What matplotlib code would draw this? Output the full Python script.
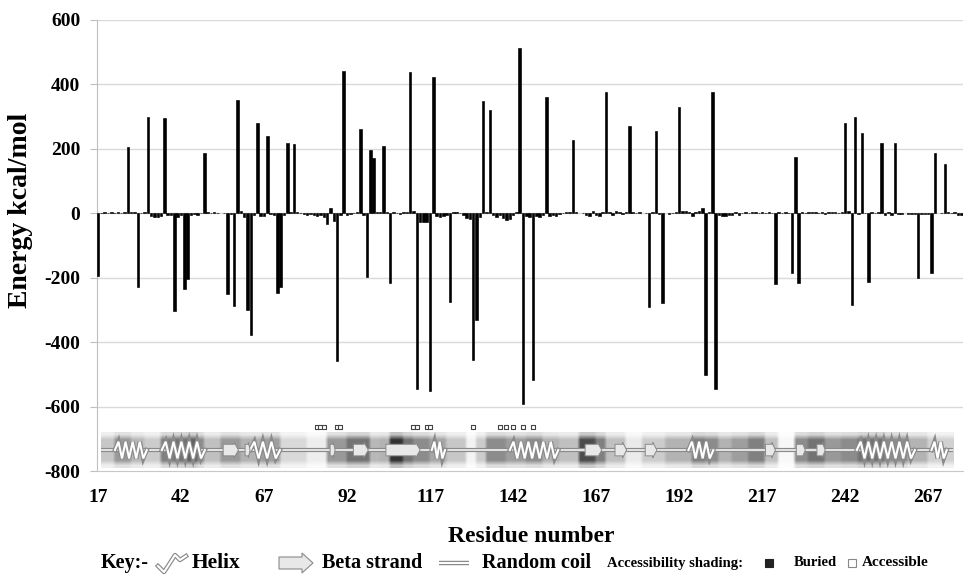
import numpy as np
import matplotlib
matplotlib.use("Agg")
import matplotlib.pyplot as plt
from matplotlib.patches import Polygon, Rectangle

plt.rcParams['font.family'] = ['Liberation Serif', 'DejaVu Serif']
plt.rcParams['font.weight'] = 'bold'

# ---------------- data ----------------
first_residue = 17
energy = [
    -195, 2, 3, 2, 3, 2, 3, 2, 4, 207,            # 17-26
    5, 3, -228, 2, 3, 300, -8, -10, -10, -8,       # 27-36
    295, -6, -5, -303, -10, -6, -235, -205, -4, -3,  # 37-46
    -5, 2, 186, 3, 2, 3, 2, None, 2, -252,         # 47-56
    -3, -287, 352, 8, -10, -300, -378, -4, 281, -8,  # 57-66
    -8, 241, -3, -5, -248, -230, -4, 217, 3, 214,  # 67-76
    3, 2, -3, -4, -3, -6, -8, -5, -10, -33,        # 77-86
    15, -23, -459, -6, 442, -5, -3, 2, 3, 261,     # 87-96
    -6, -197, 197, 171, 3, 4, 209, 3, -215, 3,     # 97-106
    2, -3, 3, 4, 440, 8, -547, -28, -28, -26,      # 107-116
    -551, 424, -8, -10, -8, -5, -274, 5, 3, 2,     # 117-126
    -4, -15, -18, -456, -331, -10, 350, 4, 321, -6,  # 127-136
    -10, -5, -15, -20, -18, -5, 3, 512, -592, -8,  # 137-146
    -10, -518, -8, -10, -6, 362, -8, -6, -8, -3,   # 147-156
    2, 3, 4, 228, 3, None, 2, -5, -8, 6,           # 157-166
    -6, -8, 4, 375, 3, -4, 8, 3, -3, 3,            # 167-176
    272, 4, 2, 3, None, 2, -290, 3, 256, -3,       # 177-186
    -280, None, -3, 2, 3, 331, 8, 6, 4, -8,        # 187-196
    3, 8, 15, -502, 3, 378, -544, -5, -8, -7,      # 197-206
    -6, -5, 3, -6, 2, 3, 2, 4, 3, 2,               # 207-216
    3, 2, 3, 2, -220, 3, 2, 3, 2, -184,            # 217-226
    176, -217, 3, 2, 4, 3, 5, 2, 3, -3,            # 227-236
    4, 5, 3, 2, 4, 280, 6, -285, 300, -3,          # 237-246
    248, 2, -214, 3, 2, 4, 219, -4, 3, -4,         # 247-256
    219, -3, -3, None, -3, -3, -2, -200, -3, -3,   # 257-266
    -3, -186, 188, None, 2, 152, 3, 2, 3, -4,      # 267-276
    -6,                                            # 277
]
residues = list(range(first_residue, first_residue + len(energy)))

x_ticks = [17, 42, 67, 92, 117, 142, 167, 192, 217, 242, 267]
y_ticks = [600, 400, 200, 0, -200, -400, -600, -800]

# secondary structure (residue ranges)
helix_start = [22.1, 36.2, 62.8, 117.5, 141.0, 194.8, 245.5, 268.0]
helix_end = [31.7, 49.2, 71.8, 121.5, 155.6, 202.3, 263.0, 272.6]
strand_start = [54.7, 61.3, 86.9, 93.9, 103.7, 163.7, 172.7, 181.8, 218.0, 227.3, 233.5]
strand_end = [59.3, 62.8, 88.4, 98.4, 114.0, 168.7, 176.2, 185.3, 221.0, 230.0, 236.0]
coil_start, coil_end = 18.0, 274.6

# accessibility shading (segment start residue, grey level 0=buried/black, 1=accessible/white)
shade_start = [18, 22, 27, 31, 36, 40, 44, 47, 49, 54, 60, 66, 72, 80, 86, 92, 99, 102, 105, 109,
               112, 117, 122, 128, 131, 134, 140, 146, 151, 156, 162, 167, 170, 176, 181, 188, 196,
               200, 204, 208, 213, 218, 222, 227, 231, 236, 241, 246, 254, 261, 267]
shade_level = [0.78, 0.6, 0.72, 0.8, 0.5, 0.45, 0.38, 0.55, 0.75, 0.6, 0.7, 0.62, 0.85, 0.93, 0.6,
               0.45, 0.72, 0.7, 0.2, 0.45, 0.55, 0.65, 0.78, 0.95, 0.8, 0.55, 0.62, 0.55, 0.7, 0.75,
               0.3, 0.5, 0.75, 0.92, 0.8, 0.7, 0.5, 0.55, 0.7, 0.62, 0.5, 0.75, 0.97, 0.55, 0.45,
               0.6, 0.55, 0.45, 0.55, 0.7, 0.82]

accessible_residues = [83, 84, 85, 89, 90, 112, 113, 116, 117, 130, 138, 140, 142, 145, 148]

# ---------------- figure ----------------
W, H = 964, 577
fig = plt.figure(figsize=(W / 100, H / 100), dpi=100)
fig.patch.set_facecolor('white')
ax = fig.add_axes([97 / W, 1 - 471 / H, (962.7 - 97) / W, (471 - 20) / H])

xs = [r for r, e in zip(residues, energy) if e is not None]
ys = [e for e in energy if e is not None]
ax.bar(xs, ys, width=0.75, color='black', edgecolor='black', linewidth=0.45, zorder=3)

ax.set_yticks(y_ticks)
ax.set_yticklabels([str(v) for v in y_ticks])
ax.set_xticks(x_ticks)
ax.set_xticklabels([str(v) for v in x_ticks])
for v in y_ticks[:-1]:
    ax.axhline(v, color='#d9d9d9', lw=1.0, zorder=0)
for s in ['top', 'right']:
    ax.spines[s].set_visible(False)
ax.spines['left'].set_color('#bfbfbf')
ax.spines['bottom'].set_color('#c8c8c8')
ax.tick_params(axis='y', length=5, color='#bfbfbf', pad=7, labelsize=14)
ax.tick_params(axis='x', length=0, pad=13, labelsize=14)
for lab in ax.get_xticklabels() + ax.get_yticklabels():
    lab.set_fontweight('bold')

# ---------------- secondary structure strip ----------------
strip_lo, strip_hi, strip_c = -791, -682, -735
grid_x = np.arange(coil_start, coil_end, 1.0)
idx = np.searchsorted(shade_start, grid_x, side='right') - 1
idx = np.clip(idx, 0, len(shade_level) - 1)
vals = np.array(shade_level)[idx]
img = np.vstack([0.3 * vals + 0.7, vals, vals, vals, vals, vals, 0.3 * vals + 0.7])
ax.imshow(img, cmap='gray', vmin=0, vmax=1, extent=[coil_start, coil_end, strip_lo, strip_hi],
          aspect='auto', interpolation='bilinear', zorder=1)
ax.set_xlim(16.7, 277.4)
ax.set_ylim(-800, 600)

# coil (double line)
ax.plot([coil_start, coil_end], [strip_c, strip_c], color='#8a8a8a', lw=3.0, zorder=2,
        solid_capstyle='butt')
ax.plot([coil_start, coil_end], [strip_c, strip_c], color='#f4f4f4', lw=1.2, zorder=2.1,
        solid_capstyle='butt')

# helices
amp = 26
for s, e in zip(helix_start, helix_end):
    m = max(1, int(round((e - s) / 2.6)))
    hx = np.linspace(s, e, 2 * m + 2)
    hy = [strip_c] + [strip_c + amp if k % 2 == 0 else strip_c - amp for k in range(2 * m)] + [strip_c]
    ax.plot(hx, hy, color='#8a8a8a', lw=3.2, zorder=3, solid_joinstyle='miter')
    ax.plot(hx, hy, color='white', lw=1.5, zorder=3.1, solid_joinstyle='miter')

# strands
for s, e in zip(strand_start, strand_end):
    hl = min(1.3, 0.35 * (e - s))
    hb, hh = 18, 24
    pts = [(s, strip_c - hb), (e - hl, strip_c - hb), (e - hl, strip_c - hh), (e, strip_c),
           (e - hl, strip_c + hh), (e - hl, strip_c + hb), (s, strip_c + hb)]
    ax.add_patch(Polygon(pts, closed=True, facecolor='#e8e8e8', edgecolor='#8a8a8a',
                         lw=0.7, zorder=3.2))

# accessible residue markers
ax.scatter(accessible_residues, [-663] * len(accessible_residues), marker='s', s=10,
           facecolor='white', edgecolor='#444444', linewidths=0.8, zorder=4)

# ---------------- labels and key ----------------
kax = fig.add_axes([0, 0, 1, 1])
kax.set_xlim(0, W)
kax.set_ylim(H, 0)
kax.axis('off')
kax.patch.set_alpha(0)

kax.text(21, 210, 'Energy kcal/mol', rotation=90, ha='center', va='center',
         fontsize=20, fontweight='bold')
kax.text(531, 537, 'Residue number', ha='center', va='center', fontsize=17, fontweight='bold')
ky = 563
kax.text(101, ky, 'Key:-', ha='left', va='center', fontsize=14.5, fontweight='bold')
hxk = [158, 164, 168, 175, 180, 186]
hyk = [566, 572, 566, 555, 560, 556]
kax.plot(hxk, hyk, color='#8a8a8a', lw=3.2)
kax.plot(hxk, hyk, color='white', lw=1.5)
kax.text(192, ky, 'Helix', ha='left', va='center', fontsize=15.5, fontweight='bold')
kax.add_patch(Polygon([(279, 557), (302, 557), (302, 553), (313, 563), (302, 573), (302, 569),
                       (279, 569)], closed=True, facecolor='#e8e8e8', edgecolor='#8a8a8a', lw=0.8))
kax.text(322, ky, 'Beta strand', ha='left', va='center', fontsize=14.5, fontweight='bold')
kax.plot([439, 469], [563, 563], color='#8a8a8a', lw=3.2, solid_capstyle='butt')
kax.plot([439, 469], [563, 563], color='white', lw=1.4, solid_capstyle='butt')
kax.text(482, ky, 'Random coil', ha='left', va='center', fontsize=14.5, fontweight='bold')
kax.text(607, ky, 'Accessibility shading:', ha='left', va='center', fontsize=10.5, fontweight='bold')
kax.add_patch(Rectangle((765, 559), 8, 8, facecolor='#222222', edgecolor='#222222', lw=0.8))
kax.text(794, ky, 'Buried', ha='left', va='center', fontsize=10.5, fontweight='bold')
kax.add_patch(Rectangle((848, 559), 8, 8, facecolor='white', edgecolor='#888888', lw=0.8))
kax.text(862, ky, 'Accessible', ha='left', va='center', fontsize=11, fontweight='bold')

fig.savefig('out.png', dpi=100, facecolor='white')
